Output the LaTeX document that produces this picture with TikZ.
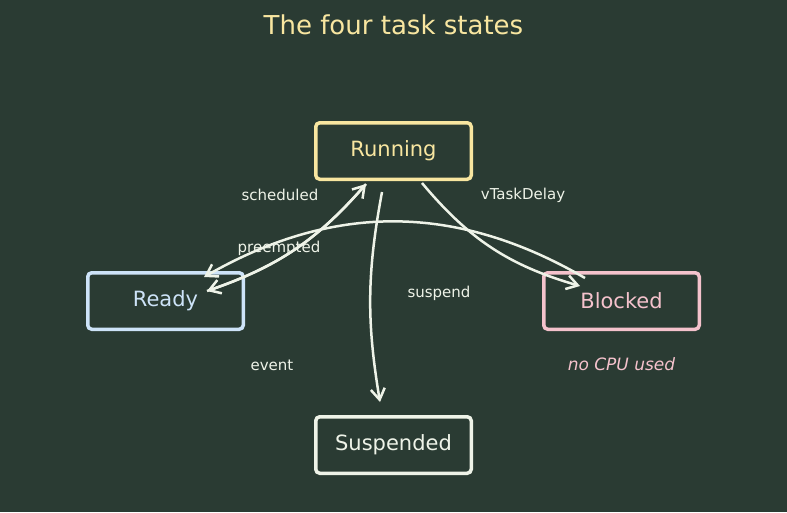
\documentclass[tikz,border=0pt]{standalone}
\usepackage{fontspec}
\setmainfont{DejaVu Sans}
\usetikzlibrary{arrows.meta}

\definecolor{boardbg}{RGB}{42,59,51}
\definecolor{runcol}{RGB}{248,230,160}
\definecolor{readycol}{RGB}{205,227,248}
\definecolor{blockcol}{RGB}{244,194,204}
\definecolor{chalk}{RGB}{238,243,232}

\tikzset{
	statebox/.style={draw=#1, text=#1, line width=3.5pt, rounded corners=4pt,
		minimum width=155.5pt, minimum height=56.5pt, inner sep=0pt,
		font=\fontsize{21}{25}\selectfont},
	trans/.style={draw=chalk, line width=2.5pt, -{Straight Barb[length=11pt,width=14pt]}},
	translabel/.style={text=chalk, font=\fontsize{15}{18}\selectfont}
}

\begin{document}
\begin{tikzpicture}[x=1pt, y=-1pt]
	% background
	\fill[boardbg] (0, 0) rectangle (787, 512);
	\useasboundingbox (0, 0) rectangle (787, 512);

	\node[text=runcol, font=\fontsize{26}{30}\selectfont] (title) at (393.5, 25) {The four task states};

	% states
	\node[statebox=runcol] (running) at (393.5, 151) {Running};
	\node[statebox=readycol] (ready) at (165.5, 301) {Ready};
	\node[statebox=blockcol] (blocked) at (621.5, 301) {Blocked};
	\node[statebox=chalk] (suspended) at (393.5, 445) {Suspended};
	\node[text=blockcol, font=\fontsize{17}{20}\selectfont\itshape] (nocpu) at (621.5, 364) {no CPU used};

	% transitions
	\draw[trans] ([xshift=41.5pt, yshift=10pt]ready.center) to[bend right=15] ([xshift=-27.5pt, yshift=-3pt]running.south);
	\draw[trans] ([xshift=-27.5pt, yshift=-3pt]running.south) to[bend left=15] ([xshift=41.5pt, yshift=10pt]ready.center);
	\draw[trans] ([xshift=-36.5pt, yshift=23pt]blocked.center) to[bend right=30] ([xshift=38.5pt, yshift=24pt]ready.center);
	\draw[trans] ([xshift=28.5pt, yshift=-2pt]running.south) to[bend right=17] ([xshift=-41.5pt, yshift=15pt]blocked.center);
	\draw[trans] ([xshift=-11.5pt, yshift=-11pt]running.south) to[bend right=10] ([xshift=-13.5pt, yshift=13pt]suspended.north);

	% labels
	\node[translabel] (lsched) at (280, 195) {scheduled};
	\node[translabel] (lpre) at (279, 248) {preempted};
	\node[translabel] (ldelay) at (523, 195) {vTaskDelay};
	\node[translabel] (lsusp) at (439, 293) {suspend};
	\node[translabel] (levent) at (272, 365) {event};
\end{tikzpicture}
\end{document}
